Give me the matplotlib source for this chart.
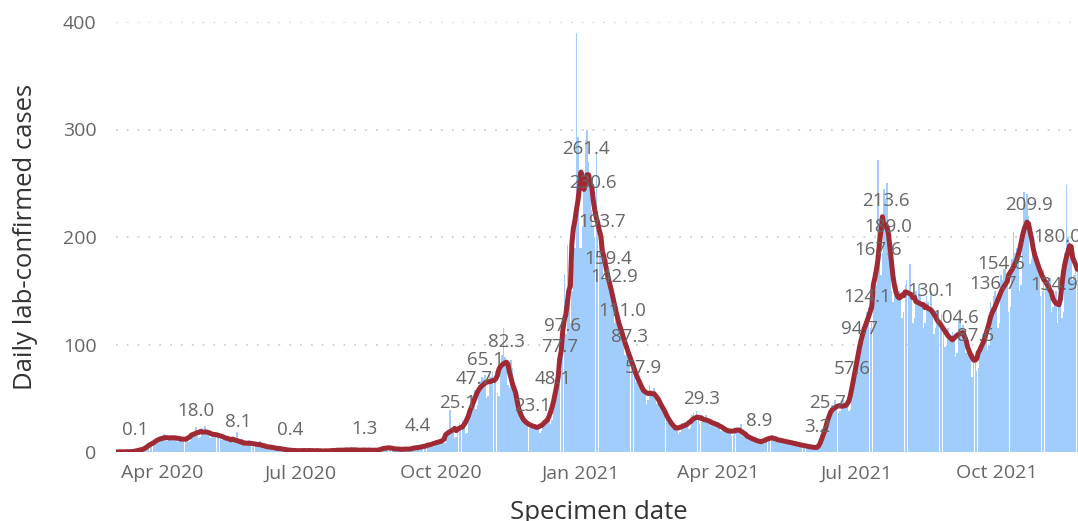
import pandas as pd
import matplotlib.pyplot as plt
import matplotlib.dates as mdates

plt.rcParams['font.family'] = ['Open Sans', 'DejaVu Sans']

# daily lab-confirmed cases, one row per week (Mon..Sun), starting 2 Mar 2020
start_date = '2020-03-02'
weekly_rows = [
    [0, 0, 0, 0, 1, 0, 0],
    [0, 0, 1, 0, 1, 0, 1],
    [1, 2, 3, 2, 4, 2, 3],
    [6, 8, 9, 11, 10, 7, 8],
    [13, 15, 14, 17, 12, 10, 11],
    [15, 14, 13, 16, 14, 9, 11],
    [14, 12, 13, 11, 14, 9, 10],
    [17, 19, 18, 23, 18, 13, 14],
    [22, 20, 24, 19, 18, 14, 13],
    [19, 18, 17, 16, 18, 12, 11],
    [16, 15, 14, 12, 13, 9, 9],
    [12, 10, 19, 9, 9, 6, 6],
    [8, 10, 9, 11, 8, 5, 5],
    [9, 8, 7, 10, 6, 4, 4],
    [6, 5, 6, 5, 4, 3, 3],
    [4, 4, 3, 3, 3, 2, 2],
    [2, 2, 2, 1, 2, 1, 1],
    [1, 2, 1, 1, 2, 1, 1],
    [2, 1, 1, 2, 1, 1, 1],
    [1, 2, 1, 1, 1, 0, 1],
    [2, 1, 2, 1, 2, 1, 1],
    [2, 3, 2, 1, 2, 1, 2],
    [3, 2, 2, 3, 1, 1, 2],
    [2, 1, 2, 3, 2, 1, 1],
    [2, 2, 1, 2, 3, 1, 1],
    [3, 5, 4, 6, 4, 2, 3],
    [3, 4, 3, 2, 3, 2, 2],
    [3, 2, 4, 3, 3, 2, 2],
    [4, 5, 6, 5, 4, 3, 4],
    [6, 7, 8, 7, 9, 5, 6],
    [9, 11, 10, 12, 11, 8, 8],
    [16, 18, 39, 20, 19, 13, 14],
    [22, 27, 24, 30, 25, 17, 18],
    [35, 42, 46, 52, 58, 40, 44],
    [62, 66, 70, 68, 72, 50, 52],
    [72, 70, 74, 68, 75, 55, 52],
    [82, 90, 115, 88, 84, 62, 60],
    [86, 78, 60, 52, 45, 34, 32],
    [33, 30, 30, 28, 27, 22, 23],
    [25, 24, 26, 23, 24, 18, 20],
    [28, 30, 29, 32, 35, 26, 30],
    [50, 58, 62, 70, 85, 75, 90],
    [166, 110, 193, 140, 120, 150, 175],
    [190, 390, 293, 190, 190, 210, 260],
    [290, 300, 270, 250, 225, 210, 200],
    [278, 210, 205, 200, 190, 160, 165],
    [180, 170, 160, 150, 145, 120, 125],
    [135, 125, 115, 110, 105, 90, 95],
    [100, 95, 85, 80, 78, 65, 68],
    [70, 65, 60, 58, 55, 45, 48],
    [62, 58, 55, 60, 52, 45, 48],
    [50, 45, 40, 38, 35, 28, 30],
    [28, 25, 24, 22, 22, 17, 19],
    [27, 26, 28, 25, 27, 21, 22],
    [34, 36, 32, 38, 33, 26, 28],
    [33, 31, 34, 30, 29, 24, 25],
    [29, 27, 26, 28, 25, 20, 21],
    [22, 23, 20, 21, 19, 15, 16],
    [23, 21, 22, 20, 26, 15, 16],
    [16, 15, 14, 15, 13, 10, 11],
    [11, 10, 12, 9, 10, 7, 8],
    [13, 15, 14, 16, 13, 10, 11],
    [12, 11, 13, 10, 11, 8, 9],
    [10, 9, 10, 8, 9, 6, 7],
    [7, 8, 6, 7, 6, 4, 5],
    [5, 6, 4, 5, 4, 3, 3],
    [5, 6, 12, 22, 30, 28, 32],
    [38, 44, 40, 48, 45, 36, 38],
    [45, 48, 42, 44, 46, 38, 40],
    [58, 65, 80, 92, 100, 88, 95],
    [110, 118, 125, 130, 135, 115, 120],
    [140, 150, 155, 272, 180, 165, 185],
    [245, 235, 250, 210, 190, 150, 140],
    [150, 145, 155, 150, 148, 125, 130],
    [155, 160, 150, 175, 145, 120, 125],
    [150, 140, 155, 145, 140, 115, 120],
    [145, 140, 135, 150, 130, 110, 115],
    [130, 125, 120, 128, 118, 98, 100],
    [115, 110, 105, 112, 108, 88, 92],
    [125, 120, 115, 118, 112, 92, 95],
    [100, 95, 70, 92, 88, 75, 78],
    [100, 105, 110, 108, 112, 95, 100],
    [140, 135, 145, 150, 140, 115, 120],
    [165, 160, 170, 175, 160, 130, 135],
    [180, 205, 185, 190, 180, 150, 155],
    [210, 242, 230, 240, 220, 175, 180],
    [200, 190, 185, 180, 175, 145, 150],
    [170, 165, 160, 158, 162, 130, 135],
    [145, 150, 120, 140, 148, 125, 130],
    [185, 248, 200, 195, 190, 160, 165],
    [180, 175],
]

# data labels shown on the 7-day average line
label_dates = ['2020-03-14', '2020-04-23', '2020-05-21', '2020-06-24', '2020-08-12',
               '2020-09-16', '2020-10-12', '2020-10-23', '2020-10-30', '2020-11-13',
               '2020-11-30', '2020-12-14', '2020-12-18', '2020-12-20', '2021-01-04',
               '2021-01-09', '2021-01-15', '2021-01-19', '2021-01-23', '2021-01-28',
               '2021-02-02', '2021-02-11', '2021-03-21', '2021-04-28', '2021-06-05',
               '2021-06-12', '2021-06-28', '2021-07-03', '2021-07-08', '2021-07-15',
               '2021-07-20', '2021-07-22', '2021-08-19', '2021-09-04', '2021-09-17',
               '2021-09-29', '2021-10-04', '2021-10-22', '2021-11-08', '2021-11-10']
label_values = [0.1, 18.0, 8.1, 0.4, 1.3,
                4.4, 25.1, 47.7, 65.1, 82.3,
                23.1, 48.1, 77.7, 97.6, 261.4,
                230.6, 193.7, 159.4, 142.9, 111.0,
                87.3, 57.9, 29.3, 8.9, 3.2,
                25.7, 57.6, 94.7, 124.1, 167.6,
                213.6, 189.0, 130.1, 104.6, 87.6,
                136.7, 154.6, 209.9, 134.9, 180.0]

cases = [v for row in weekly_rows for v in row]
dates = pd.date_range(start_date, periods=len(cases), freq='D')
df = pd.DataFrame({'date': dates, 'cases': cases})
df['avg'] = df['cases'].rolling(7, center=True, min_periods=1).mean()

fig = plt.figure(figsize=(10.78, 5.21), dpi=100)
ax = fig.add_axes([116 / 1078, 69 / 521, 962 / 1078, 430 / 521])

ax.bar(df['date'], df['cases'], width=0.95, color='#A0CDFC', linewidth=0, zorder=2)
ax.plot(df['date'], df['avg'], color='#A02A33', lw=3.6, solid_capstyle='round',
        solid_joinstyle='round', zorder=3)

for d, v in zip(pd.to_datetime(label_dates), label_values):
    ax.annotate(f'{v:.1f}', (d, v), xytext=(0, 15.5), textcoords='offset points',
                ha='center', va='center', fontsize=13.5, color='#666666', zorder=4)

ax.set_ylim(0, 400)
ax.set_xlim(pd.Timestamp('2020-03-01 12:00'), pd.Timestamp('2021-11-23 12:00'))
ax.set_yticks([0, 100, 200, 300, 400])
ax.yaxis.grid(True, color='#C8C8C8', linestyle=(0, (1, 5.5)), linewidth=1.2, zorder=0)
ax.set_axisbelow(True)
for s in ax.spines.values():
    s.set_visible(False)

ax.xaxis.set_major_locator(mdates.MonthLocator(bymonth=[1, 4, 7, 10]))
ax.xaxis.set_major_formatter(mdates.DateFormatter('%b %Y'))
ax.tick_params(axis='both', length=0, labelsize=14, labelcolor='#666666')
ax.tick_params(axis='x', pad=9)
ax.tick_params(axis='y', pad=14)

ax.set_ylabel('Daily lab-confirmed cases', fontsize=18.5, color='#333333')
ax.set_xlabel('Specimen date', fontsize=18.5, color='#333333')
ax.yaxis.set_label_coords(-0.081, 0.5)
ax.xaxis.set_label_coords(0.502, -0.112)

fig.savefig('out.png', dpi=100)
